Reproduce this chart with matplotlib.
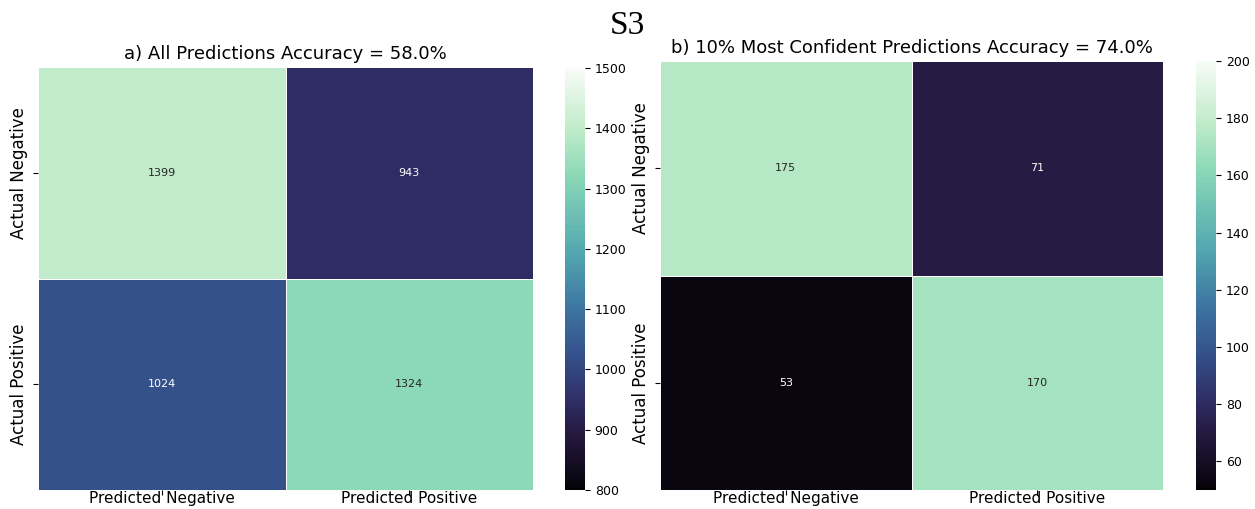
import matplotlib
matplotlib.use("Agg")
import matplotlib.pyplot as plt
from matplotlib.colors import LinearSegmentedColormap
import numpy as np
import seaborn as sns

row_labels = ["Actual Negative", "Actual Positive"]
col_labels = ["Predicted Negative", "Predicted Positive"]

all_counts = [[1399, 943],
              [1024, 1324]]
all_accuracy = 58.0

top_counts = [[175, 71],
              [53, 170]]
top_accuracy = 74.0

fig = plt.figure(figsize=(12.55, 5.09), dpi=100)
W, H = 1255, 509


def box(x0, y0, x1, y1):
    return [x0 / W, 1 - y1 / H, (x1 - x0) / W, (y1 - y0) / H]


ax_a = fig.add_axes(box(38, 67, 533, 490))
cax_a = fig.add_axes(box(565, 68, 585, 490))
ax_b = fig.add_axes(box(660, 61, 1163, 490))
cax_b = fig.add_axes(box(1196, 61, 1216, 490))

# dark purple -> blue -> teal -> green -> white ramp
cmap = LinearSegmentedColormap.from_list("deep_green", [
    (0.00, "#030105"),
    (0.02, "#0a0610"),
    (0.14, "#261b44"),
    (0.204, "#2f2c63"),
    (0.32, "#35528b"),
    (0.43, "#3d75a1"),
    (0.571, "#55aab0"),
    (0.749, "#8cd9b8"),
    (0.856, "#c0ebc9"),
    (1.00, "#f7fcf7"),
])

panels = [
    (ax_a, cax_a, all_counts, 800, 1500,
     f"a) All Predictions Accuracy = {all_accuracy:.1f}%"),
    (ax_b, cax_b, top_counts, 50, 200,
     f"b) 10% Most Confident Predictions Accuracy = {top_accuracy:.1f}%"),
]

for ax, cax, counts, vmin, vmax, title in panels:
    sns.heatmap(np.array(counts), ax=ax, cbar_ax=cax, cmap=cmap,
                vmin=vmin, vmax=vmax, annot=True, fmt="d",
                annot_kws={"fontsize": 8}, linewidths=0.6, linecolor="white",
                xticklabels=col_labels, yticklabels=row_labels)
    ax.set_title(title, fontsize=13)
    ax.tick_params(axis="x", labelsize=11, rotation=0, pad=-3)
    ax.tick_params(axis="y", labelsize=12)
    for lbl in ax.get_yticklabels():
        lbl.set_rotation(90)
        lbl.set_va("center")
    cax.tick_params(labelsize=9)

fig.suptitle("S3", fontsize=24, family="Liberation Serif", y=0.98)

fig.savefig("out.png", dpi=100)
